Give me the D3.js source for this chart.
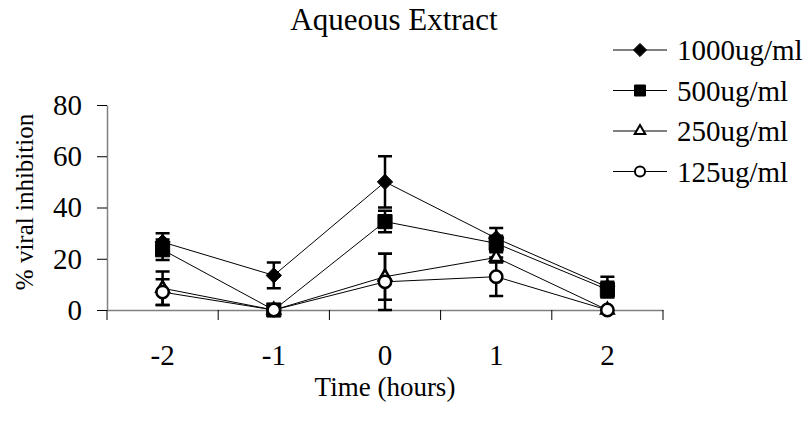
<!DOCTYPE html>
<html>
<head>
<meta charset="utf-8">
<script src="https://cdn.jsdelivr.net/npm/d3@7"></script>
<style>
  body { margin: 0; background: #fff; }
  svg { display: block; font-family: "Liberation Serif", "Times New Roman", serif; }
</style>
</head>
<body>
<svg width="812" height="432"></svg>
<script>
const times = ['-2', '-1', '0', '1', '2'];
const yTicks = [0, 20, 40, 60, 80];
const seriesNames = ['1000ug/ml', '500ug/ml', '250ug/ml', '125ug/ml'];

const v1000 = [26.5, 13.5, 50, 28, 9];
const e1000 = [3.5, 5, 10, 4, 4];
const v500 = [23.5, 0, 34.5, 26, 8];
const e500 = [4, 0, 4.2, 3, 3];
const v250 = [8.5, 0, 13, 20.5, 0];
const e250 = [6.5, 0, 9, 2, 0];
const v125 = [7, 0, 11, 13, 0];
const e125 = [5, 0, 11, 7.5, 0];

const series = [
  { name: seriesNames[0], values: v1000, errors: e1000, type: d3.symbolDiamond2, size: 150, lsize: 110, fill: '#000' },
  { name: seriesNames[1], values: v500, errors: e500, type: d3.symbolSquare, size: 200, lsize: 121, fill: '#000' },
  { name: seriesNames[2], values: v250, errors: e250, type: d3.symbolTriangle2, size: 110, lsize: 80, fill: '#fff' },
  { name: seriesNames[3], values: v125, errors: e125, type: d3.symbolCircle, size: 120, lsize: 80, fill: '#fff' },
];

const svg = d3.select('svg');

const xScale = d3.scaleBand().domain(times).range([107, 663]);
const yScale = d3.scaleLinear().domain([0, 80]).range([310, 105]);
const cx = (t) => xScale(t) + xScale.bandwidth() / 2;

svg.append('text')
  .attr('x', 394)
  .attr('y', 30)
  .attr('text-anchor', 'middle')
  .attr('font-size', '31px')
  .text('Aqueous Extract');

// y axis
const yAxis = svg.append('g')
  .attr('transform', 'translate(107,0)')
  .call(d3.axisLeft(yScale).tickValues(yTicks).tickSize(10).tickPadding(15).tickSizeOuter(0));
yAxis.select('.domain').attr('stroke', '#808080').attr('stroke-width', 1.5);
yAxis.selectAll('.tick line').attr('stroke', '#000');
yAxis.selectAll('text').attr('font-size', '29px').attr('font-family', 'Liberation Serif').attr('fill', '#000');

// x axis
const xAxis = svg.append('g')
  .attr('transform', 'translate(0,' + yScale(0) + ')')
  .call(d3.axisBottom(xScale).tickSize(0).tickSizeOuter(0));
xAxis.select('.domain').attr('stroke', '#808080').attr('stroke-width', 1.5);
xAxis.selectAll('text')
  .attr('y', 55)
  .attr('dy', 0)
  .attr('font-size', '29px')
  .attr('font-family', 'Liberation Serif')
  .attr('fill', '#000');

const bounds = times.map((t) => xScale(t)).concat([xScale.range()[1]]);
xAxis.selectAll('.bound')
  .data(bounds)
  .enter()
  .append('line')
  .attr('class', 'bound')
  .attr('x1', (d) => d)
  .attr('x2', (d) => d)
  .attr('y1', 0)
  .attr('y2', 10)
  .attr('stroke', '#000');

svg.append('text')
  .attr('transform', 'translate(33,202) rotate(-90)')
  .attr('text-anchor', 'middle')
  .attr('font-size', '25px')
  .text('% viral inhibition');

svg.append('text')
  .attr('x', 385)
  .attr('y', 396)
  .attr('text-anchor', 'middle')
  .attr('font-size', '27px')
  .text('Time (hours)');

const line = d3.line()
  .x((d) => cx(d.t))
  .y((d) => yScale(d.v));

const pts = (s) => times.map((t, i) => ({ t: t, v: s.values[i], e: s.errors[i] }));

// connecting lines
series.forEach((s) => {
  svg.append('path')
    .datum(pts(s))
    .attr('d', line)
    .attr('fill', 'none')
    .attr('stroke', '#000')
    .attr('stroke-width', 1);
});

// error bars
series.forEach((s) => {
  const g = svg.append('g').attr('stroke', '#000').attr('stroke-width', 2.5);
  const bars = pts(s).filter((d) => d.e > 0);
  g.selectAll('.eb')
    .data(bars)
    .enter()
    .append('path')
    .attr('d', (d) => {
      const x = cx(d.t), y1 = yScale(d.v + d.e), y2 = yScale(Math.max(0, d.v - d.e));
      return `M${x},${y1}V${y2}M${x - 7},${y1}H${x + 7}M${x - 7},${y2}H${x + 7}`;
    })
    .attr('fill', 'none');
});

// markers
series.forEach((s) => {
  svg.append('g')
    .selectAll('path')
    .data(pts(s))
    .enter()
    .append('path')
    .attr('transform', (d) => `translate(${cx(d.t)},${yScale(d.v)})`)
    .attr('d', d3.symbol().type(s.type).size(s.size))
    .attr('fill', s.fill)
    .attr('stroke', '#000')
    .attr('stroke-width', s.fill === '#fff' ? 2.5 : 1);
});

// legend
const legend = svg.append('g').attr('transform', 'translate(613,50)');
const rows = legend.selectAll('.row')
  .data(series)
  .enter()
  .append('g')
  .attr('class', 'row')
  .attr('transform', (d, i) => `translate(0,${i * 40.5})`);
rows.append('line')
  .attr('x1', 0).attr('x2', 54)
  .attr('y1', 0).attr('y2', 0)
  .attr('stroke', '#000');
rows.append('path')
  .attr('transform', 'translate(27,0)')
  .attr('d', (d) => d3.symbol().type(d.type).size(d.lsize)())
  .attr('fill', (d) => d.fill)
  .attr('stroke', '#000')
  .attr('stroke-width', (d) => (d.fill === '#fff' ? 2 : 1));
rows.append('text')
  .attr('x', 64)
  .attr('y', 0)
  .attr('dy', '0.35em')
  .attr('font-size', '29px')
  .text((d) => d.name);
</script>
</body>
</html>
